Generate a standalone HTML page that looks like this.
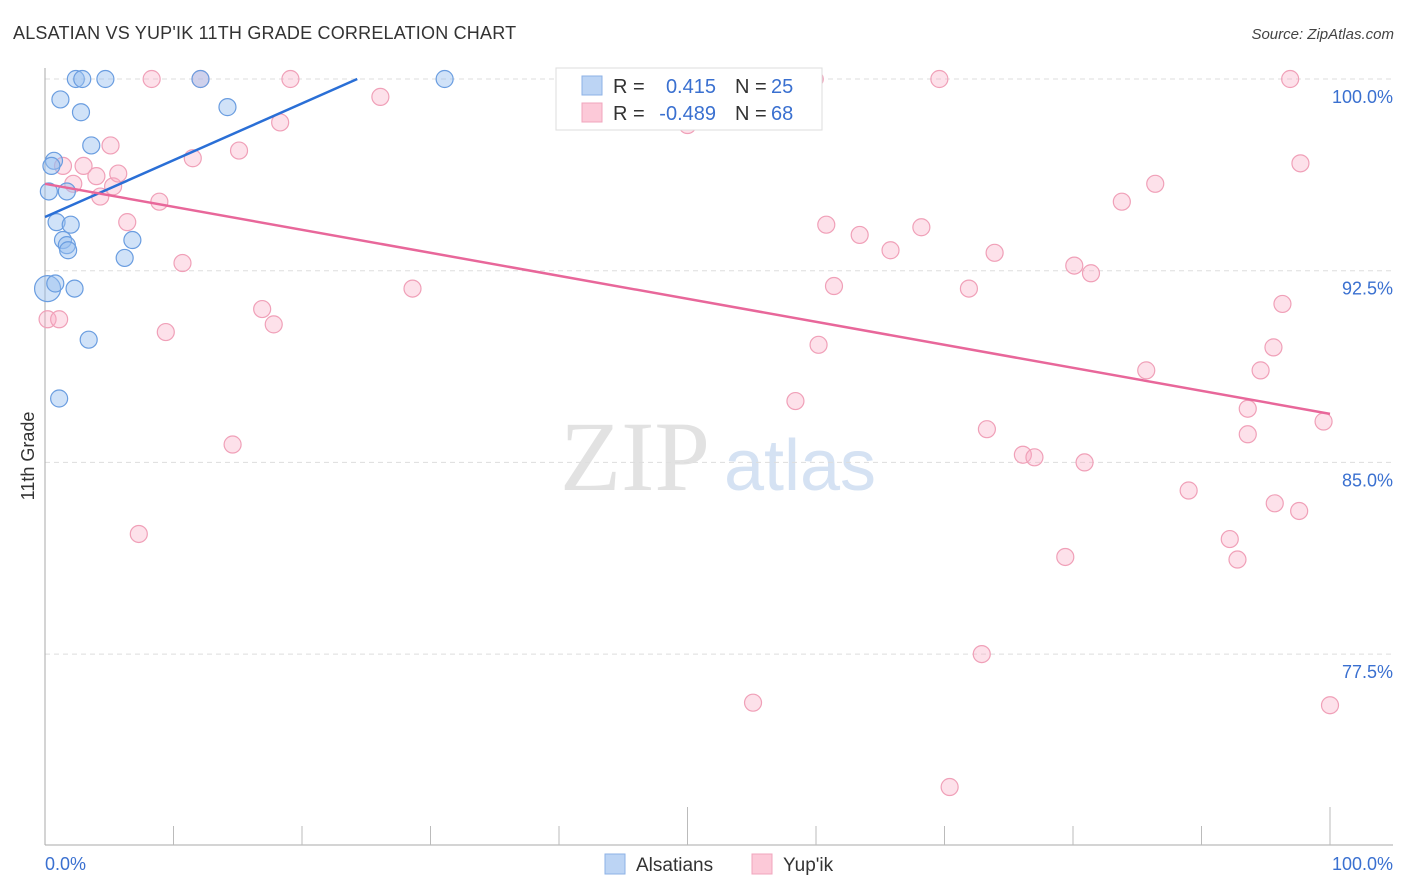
<!DOCTYPE html>
<html><head><meta charset="utf-8"><style>
body{margin:0;background:#fff;font-family:"Liberation Sans",sans-serif;}
svg{display:block}
</style></head><body>
<svg id="chart" width="1406" height="892" xmlns="http://www.w3.org/2000/svg">
<text x="13" y="39" font-size="18" fill="#333" letter-spacing="0.2">ALSATIAN VS YUP'IK 11TH GRADE CORRELATION CHART</text>
<text x="1394" y="39" font-size="15" fill="#444" font-style="italic" text-anchor="end">Source: ZipAtlas.com</text>
<text transform="translate(34,456) rotate(-90)" font-size="18" fill="#333" text-anchor="middle">11th Grade</text>
<g>
<text x="635" y="490" font-size="100" fill="#e2e2e2" font-family="Liberation Serif,serif" text-anchor="middle">ZIP</text>
<text x="800" y="490" font-size="72" fill="#d5e2f3" text-anchor="middle">atlas</text>
</g>
<g id="grid"></g><g id="axes"></g><g id="pts"></g><g id="trend"></g>
<g>
<rect x="556" y="68" width="266" height="62" fill="#fff" stroke="#ddd"/>
<rect x="582" y="76" width="20" height="19" fill="#bcd4f4" stroke="#8db2e6"/>
<rect x="582" y="103" width="20" height="19" fill="#fcc9d8" stroke="#f0a5bd"/>
<text x="613" y="93" font-size="20" fill="#333">R = </text><text x="716" y="93" font-size="20" fill="#3a70d0" text-anchor="end">0.415</text>
<text x="735" y="93" font-size="20" fill="#333">N = </text><text x="771" y="93" font-size="20" fill="#3a70d0">25</text>
<text x="613" y="120" font-size="20" fill="#333">R = </text><text x="716" y="120" font-size="20" fill="#3a70d0" text-anchor="end">-0.489</text>
<text x="735" y="120" font-size="20" fill="#333">N = </text><text x="771" y="120" font-size="20" fill="#3a70d0">68</text>
</g>
<g>
<rect x="605" y="854" width="20" height="20" fill="#bcd4f4" stroke="#8db2e6"/>
<text x="636" y="871" font-size="19" fill="#333">Alsatians</text>
<rect x="752" y="854" width="20" height="20" fill="#fcc9d8" stroke="#f0a5bd"/>
<text x="783" y="871" font-size="19" fill="#333">Yup'ik</text>
</g>
</svg>
<script>
const yTicks=[100,92.5,85,77.5];
const yTickLabels=["100.0%","92.5%","85.0%","77.5%"];
const alsX=[2.4,2.9,4.7,12.1,31.1,1.2,2.8,14.2,3.6,0.7,0.5,1.7,0.3,0.9,2.0,1.4,1.7,1.8,6.8,6.2,0.2,0.8,2.3,3.4,1.1];
const alsY=[100,100,100,100,100,99.2,98.7,98.9,97.4,96.8,96.6,95.6,95.6,94.4,94.3,93.7,93.5,93.3,93.7,93.0,91.8,92.0,91.8,89.8,87.5];
const yupX=[8.3,12.1,19.1,26.1,18.3,11.5,15.1,5.1,1.4,3.0,4.0,2.2,5.3,5.7,4.3,8.9,6.4,0.2,10.7,16.9,17.8,9.4,28.6,14.6,7.3,41.4,59.9,69.6,96.9,50.0,97.7,86.4,83.8,60.8,68.2,63.4,65.8,73.9,61.4,71.9,80.1,81.4,60.2,96.3,95.6,94.6,85.7,58.4,93.6,93.6,73.3,99.5,76.1,77.0,80.9,89.0,95.7,97.6,92.2,92.8,79.4,72.9,55.1,100,70.4,1.1];
const yupY=[100,100,100,99.3,98.3,96.9,97.2,97.4,96.6,96.6,96.2,95.9,95.8,96.3,95.4,95.2,94.4,90.6,92.8,91.0,90.4,90.1,91.8,85.7,82.2,100,100,100,100,98.2,96.7,95.9,95.2,94.3,94.2,93.9,93.3,93.2,91.9,91.8,92.7,92.4,89.6,91.2,89.5,88.6,88.6,87.4,87.1,86.1,86.3,86.6,85.3,85.2,85.0,83.9,83.4,83.1,82.0,81.2,81.3,77.5,75.6,75.5,72.3,90.6];
const alsTrendX=[0,24.3];const alsTrendY=[94.6,100];
const yupTrendX=[0,100];const yupTrendY=[95.9,86.9];
const NS="http://www.w3.org/2000/svg";
const X=v=>45+v/100*1285, Y=v=>79+(100-v)/7.5*191.7;
function mk(parent,tag,attrs){const e=document.createElementNS(NS,tag);for(const k in attrs)e.setAttribute(k,attrs[k]);document.getElementById(parent).appendChild(e);return e;}
yTicks.forEach((t,i)=>{
 const l=mk('grid','line',{x1:45,x2:1393,y1:Y(t),y2:Y(t),stroke:'#ddd','stroke-dasharray':'5,4'});
 
 
 const tx=mk('grid','text',{x:1393,y:Y(t)+24,'font-size':18,fill:'#3a70d0','text-anchor':'end'});
 tx.textContent=yTickLabels[i];
 
 
});
let a=mk('axes','line',{x1:45,x2:45,y1:68,y2:845,stroke:'#aaa'});


a=mk('axes','line',{x1:45,x2:1393,y1:845,y2:845,stroke:'#aaa'});


for(let i=1;i<=10;i++){
 const big=(i==5||i==10);
 const t=mk('axes','line',{x1:X(i*10),x2:X(i*10),y1:big?807:826,y2:845,stroke:'#bbb'});
 
 
}
let xl=mk('axes','text',{x:45,y:870,'font-size':18,fill:'#3a70d0'});xl.textContent='0.0%';


xl=mk('axes','text',{x:1393,y:870,'font-size':18,fill:'#3a70d0','text-anchor':'end'});xl.textContent='100.0%';


yupX.forEach((v,i)=>{
 const c=mk('pts','circle',{cx:X(v),cy:Y(yupY[i]),r:8.5,fill:'rgba(248,170,195,0.35)',stroke:'#f0a0b8','stroke-width':1.2});
 
 
});
alsX.forEach((v,i)=>{
 const c=mk('pts','circle',{cx:X(v),cy:Y(alsY[i]),r:i==20?13:8.5,fill:'rgba(150,190,240,0.45)',stroke:'#6a9de0','stroke-width':1.2});
 
 
});
let tl=mk('trend','line',{x1:X(alsTrendX[0]),y1:Y(alsTrendY[0]),x2:X(alsTrendX[1]),y2:Y(alsTrendY[1]),stroke:'#2a6fd6','stroke-width':2.5});


tl=mk('trend','line',{x1:X(yupTrendX[0]),y1:Y(yupTrendY[0]),x2:X(yupTrendX[1]),y2:Y(yupTrendY[1]),stroke:'#e8679a','stroke-width':2.5});


</script>
</body></html>
